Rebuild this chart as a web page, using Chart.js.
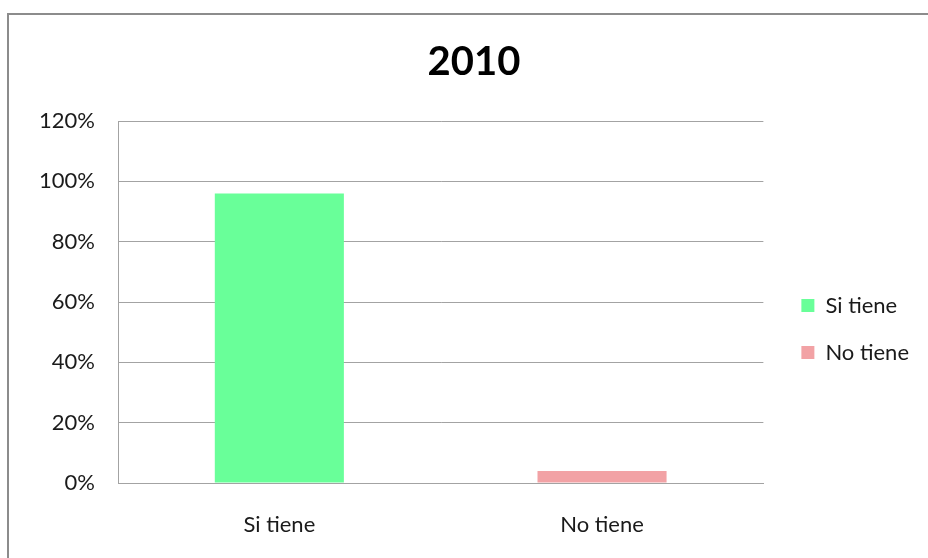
<!DOCTYPE html>
<html>
<head>
<meta charset="utf-8">
<script src="https://cdn.jsdelivr.net/npm/chart.js@4.4.1/dist/chart.umd.min.js"></script>
<style>
  html, body { margin: 0; padding: 0; background: #fff; overflow: hidden; }
  #wrap { position: relative; width: 928px; height: 558px; }
  #frame { position: absolute; left: 7px; top: 13px; width: 1000px; height: 1000px; border: 2px solid #8c8c8c; box-sizing: border-box; }
  canvas { position: absolute; left: 0; top: 0; }
</style>
</head>
<body>
<div id="wrap">
  <div id="frame"></div>
  <canvas id="c" width="928" height="558"></canvas>
</div>
<script>
const title = "2010";
const categories = ["Si tiene", "No tiene"];
const values = [96, 4];
const colors = ["#69FF99", "#F2A2A5"];
const yTicks = [0, 20, 40, 60, 80, 100, 120];

const FONT = "Lato, 'Open Sans', sans-serif";
const TEXT = "#1a1a1a";
const GRID = "#a3a3a3";

// small layout nudges for legend and title (box placement only)
const nudge = {
  id: 'nudge',
  afterLayout(chart) {
    const lg = chart.legend;
    if (lg && !lg._shifted) { lg.left += 13; lg.right += 13; lg._shifted = true; }
    const tb = chart.titleBlock;
    if (tb && !tb._shifted) { tb.left += 11; tb.right += 11; tb._shifted = true; }
  },
  beforeUpdate(chart) {
    if (chart.legend) chart.legend._shifted = false;
    if (chart.titleBlock) chart.titleBlock._shifted = false;
  }
};

new Chart(document.getElementById('c'), {
  type: 'bar',
  data: {
    labels: categories,
    datasets: [{
      data: values,
      backgroundColor: colors,
      borderWidth: 0,
      barPercentage: 0.4,
      categoryPercentage: 1.0
    }]
  },
  plugins: [nudge],
  options: {
    responsive: false,
    animation: false,
    layout: { padding: { left: 20, right: 22, top: 0, bottom: 0 } },
    plugins: {
      tooltip: { enabled: false },
      title: {
        display: true,
        text: title,
        color: '#000',
        font: { family: FONT, size: 40, weight: 'bold', lineHeight: 1.2 },
        padding: { top: 38, bottom: 35 }
      },
      legend: {
        position: 'right',
        align: 'center',
        title: { display: true, text: ' ', font: { size: 10, lineHeight: 1.2 }, padding: { top: 44, bottom: 44 } },
        labels: {
          color: TEXT,
          font: { family: FONT, size: 22 },
          boxWidth: 13,
          boxHeight: 13,
          padding: 25,
          generateLabels: (chart) => categories.map((c, i) => ({
            text: c,
            fillStyle: colors[i],
            strokeStyle: colors[i],
            fontColor: TEXT,
            lineWidth: 0,
            hidden: false,
            index: i
          }))
        }
      }
    },
    scales: {
      x: {
        grid: { display: false },
        border: { display: true, color: GRID, width: 1 },
        ticks: { color: TEXT, font: { family: FONT, size: 22 }, padding: 21 },
        afterFit: (s) => { s.height = 75; }
      },
      y: {
        min: 0,
        max: 120,
        afterBuildTicks: (s) => { s.ticks = yTicks.map(v => ({ value: v })); },
        grid: { color: GRID, lineWidth: 1, drawTicks: false },
        border: { display: true, color: GRID, width: 1 },
        ticks: {
          color: TEXT,
          font: { family: FONT, size: 22 },
          padding: 23,
          callback: (v) => v + '%'
        },
        afterFit: (s) => { s.width = 98; }
      }
    }
  }
});
</script>
</body>
</html>
